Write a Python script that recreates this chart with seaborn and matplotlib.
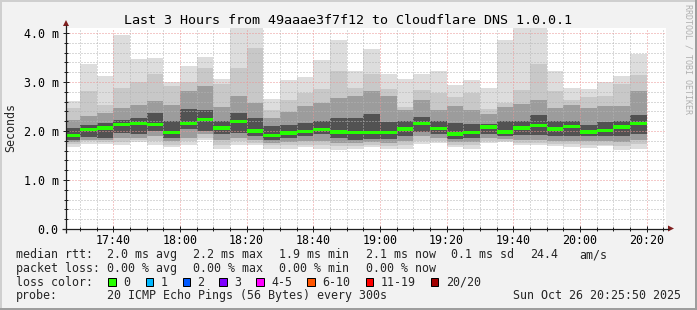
import numpy as np
import pandas as pd
import matplotlib
matplotlib.use("Agg")
import matplotlib.pyplot as plt
import seaborn as sns
from matplotlib.ticker import MultipleLocator
from matplotlib.patches import Rectangle, Polygon

# ---------------- data ----------------
bin_start = pd.date_range("2025-10-26 17:25", periods=35, freq="5min")

median = [1.91, 2.03, 2.06, 2.14, 2.16, 2.14, 1.97, 2.16, 2.23, 2.06, 2.20, 2.00,
          1.91, 1.96, 1.99, 2.03, 1.98, 1.97, 1.97, 1.97, 2.04, 2.16, 2.05, 1.94,
          1.97, 2.08, 1.98, 2.06, 2.12, 2.04, 2.10, 1.98, 2.01, 2.08, 2.15]

ping_max = [2.62, 3.37, 3.12, 3.95, 3.46, 3.48, 3.00, 3.32, 3.51, 3.07, 4.25, 4.25,
            2.66, 3.05, 3.10, 3.44, 3.85, 3.23, 3.68, 3.17, 3.07, 3.17, 3.22, 2.93,
            3.05, 2.88, 3.86, 4.25, 4.25, 3.23, 2.88, 2.86, 3.00, 3.12, 3.58]
upper2 = [2.47, 2.81, 2.54, 2.88, 3.01, 3.17, 2.91, 3.01, 3.29, 2.95, 3.29, 3.69,
          2.42, 2.64, 2.78, 2.86, 3.22, 2.88, 3.17, 2.86, 2.50, 2.84, 2.78, 2.69,
          2.78, 2.45, 2.57, 2.84, 3.37, 2.82, 2.64, 2.69, 2.71, 2.95, 3.15]
upper3 = [2.23, 2.30, 2.37, 2.47, 2.54, 2.61, 2.54, 2.81, 2.91, 2.50, 2.71, 2.57,
          2.27, 2.39, 2.52, 2.57, 2.67, 2.71, 2.82, 2.71, 2.42, 2.64, 2.42, 2.52,
          2.42, 2.35, 2.50, 2.55, 2.64, 2.46, 2.54, 2.47, 2.52, 2.52, 2.81]
upper4 = [2.06, 2.13, 2.16, 2.23, 2.27, 2.37, 2.20, 2.44, 2.42, 2.20, 2.37, 2.27,
          2.10, 2.13, 2.16, 2.20, 2.27, 2.27, 2.35, 2.18, 2.21, 2.28, 2.21, 2.16,
          2.14, 2.14, 2.20, 2.21, 2.32, 2.20, 2.20, 2.13, 2.18, 2.20, 2.33]
lower4 = [1.82, 1.87, 1.86, 1.96, 1.93, 2.01, 1.86, 2.05, 2.01, 1.93, 1.96, 1.89,
          1.82, 1.86, 1.89, 1.93, 1.86, 1.82, 1.84, 1.84, 1.89, 1.98, 1.93, 1.84,
          1.86, 1.94, 1.89, 1.91, 1.91, 1.89, 1.89, 1.89, 1.89, 1.89, 1.93]
lower3 = [1.78, 1.82, 1.82, 1.86, 1.86, 1.89, 1.79, 1.86, 1.93, 1.82, 1.86, 1.82,
          1.76, 1.78, 1.79, 1.79, 1.76, 1.76, 1.78, 1.76, 1.79, 1.89, 1.86, 1.78,
          1.78, 1.86, 1.84, 1.82, 1.82, 1.80, 1.80, 1.79, 1.79, 1.78, 1.82]
lower2 = [1.74, 1.79, 1.78, 1.78, 1.81, 1.79, 1.72, 1.79, 1.86, 1.72, 1.79, 1.76,
          1.71, 1.71, 1.72, 1.71, 1.69, 1.69, 1.72, 1.69, 1.71, 1.80, 1.80, 1.72,
          1.71, 1.80, 1.80, 1.76, 1.76, 1.74, 1.74, 1.71, 1.72, 1.69, 1.74]
ping_min = [1.68, 1.74, 1.74, 1.71, 1.77, 1.71, 1.67, 1.71, 1.81, 1.64, 1.72, 1.71,
            1.64, 1.64, 1.67, 1.64, 1.62, 1.64, 1.67, 1.64, 1.64, 1.74, 1.76, 1.67,
            1.64, 1.76, 1.78, 1.71, 1.72, 1.69, 1.67, 1.65, 1.69, 1.62, 1.64]

xtick_labels = ["17:40", "18:00", "18:20", "18:40", "19:00", "19:20", "19:40", "20:00", "20:20"]
ytick_values = [0.0, 1.0, 2.0, 3.0, 4.0]
ytick_labels = ["0.0", "1.0 m", "2.0 m", "3.0 m", "4.0 m"]

title = "Last 3 Hours from 49aaae3f7f12 to Cloudflare DNS 1.0.0.1"
rtt_stats = ["2.0 ms avg", "2.2 ms max", "1.9 ms min", "2.1 ms now", "0.1 ms sd", "24.4", "am/s"]
loss_stats = ["0.00 % avg", "0.00 % max", "0.00 % min", "0.00 % now"]
loss_labels = ["0", "1", "2", "3", "4-5", "6-10", "11-19", "20/20"]
loss_colors = ["#26ff00", "#00b8ff", "#0059ff", "#7e00ff", "#ff00ff", "#ff5500", "#ff0000", "#a10000"]
probe_text = "20 ICMP Echo Pings (56 Bytes) every 300s"
stamp_text = "Sun Oct 26 20:25:50 2025"

# ---------------- style ----------------
sns.set_theme(style="white")
plt.rcParams['font.family'] = ['DejaVu Sans Mono', 'DejaVu Sans']
plt.rcParams['lines.scale_dashes'] = True

W, H = 697, 310
BACK = "#f2f2f2"
SHADEA = "#cfcfcf"
SHADEB = "#9e9e9e"
GRID = "#b4b4b4"
MGRID = "#eb9595"
AXIS = "#1f1f1f"
ARROW = "#801f1f"
FS = 8.4

fig = plt.figure(figsize=(W / 100, H / 100), dpi=100, facecolor=BACK)
ax = fig.add_axes([66 / W, 1 - 229 / H, 600 / W, 201 / H])
ax.set_facecolor("white")

t0 = pd.Timestamp("2025-10-26 17:00")
xs = np.array([(t - t0).total_seconds() / 60 for t in bin_start])
end_min = (pd.Timestamp("2025-10-26 20:25:50") - t0).total_seconds() / 60

layers = [(ping_min, ping_max, "#dddddd"),
          (lower2, upper2, "#c8c8c8"),
          (lower3, upper3, "#9c9c9c"),
          (lower4, upper4, "#525252")]
for lo, hi, col in layers:
    lo = np.asarray(lo); hi = np.asarray(hi)
    ax.bar(xs, hi - lo, bottom=lo, width=5, align="edge", color=col,
           linewidth=0, antialiased=False, zorder=1)
med = np.asarray(median)
ax.bar(xs, 0.065, bottom=med - 0.0325, width=5, align="edge", color=loss_colors[0],
       linewidth=0, antialiased=False, zorder=3)

ax.set_xlim(end_min - 180, end_min)
ax.set_ylim(0, 201 / 49)
ax.set_xticks(np.arange(40, 201, 20), xtick_labels)
ax.xaxis.set_minor_locator(MultipleLocator(5))
ax.set_yticks(ytick_values, ytick_labels)
ax.yaxis.set_minor_locator(MultipleLocator(0.2))
ax.set_axisbelow(False)
ax.grid(which="minor", color=GRID, linestyle=(0, (1, 2)), linewidth=0.72)
ax.grid(which="major", color=MGRID, linestyle=(0, (1, 2)), linewidth=0.72)
ax.tick_params(which="both", bottom=True, left=True, direction="inout",
               color=AXIS, width=0.72, labelsize=FS, labelcolor="black")
ax.tick_params(which="major", length=4)
ax.tick_params(which="minor", length=2.5)
ax.tick_params(axis="x", which="major", pad=1.3)
ax.tick_params(axis="y", which="major", pad=3.3)
for s in ax.spines.values():
    s.set_visible(False)

# ---------------- overlay in pixel coords ----------------
ov = fig.add_axes([0, 0, 1, 1], zorder=5)
ov.set_xlim(0, W)
ov.set_ylim(H, 0)
ov.axis("off")
ov.patch.set_alpha(0)

# frame shading
ov.add_patch(Rectangle((0, 0), W, 1.5, color=SHADEA, lw=0))
ov.add_patch(Rectangle((0, 0), 1.5, H, color=SHADEA, lw=0))
ov.add_patch(Rectangle((0, H - 2), W, 2, color=SHADEB, lw=0))
ov.add_patch(Rectangle((W - 2, 0), 2, H, color=SHADEB, lw=0))

# axes lines + arrows
ov.plot([62, 669], [228.5, 228.5], color=AXIS, lw=0.9, solid_capstyle="butt")
ov.plot([66, 66], [232.5, 25], color=AXIS, lw=0.9, solid_capstyle="butt")
ov.add_patch(Polygon([[668, 225.5], [668, 231.5], [674, 228.5]], closed=True, color=ARROW, lw=0))
ov.add_patch(Polygon([[63, 26], [69, 26], [66, 20]], closed=True, color=ARROW, lw=0))

# title & labels
ov.text(348.5, 23.5, title, ha="center", va="baseline", fontsize=9.6, color="black")
ov.text(10.5, 128, "Seconds", rotation=90, ha="center", va="center", fontsize=FS)
ov.text(688, 4, "RRDTOOL / TOBI OETIKER", rotation=-90, ha="center", va="top",
        fontsize=6, color="#b0b0b0")

rows = [258.3, 271.8, 285.8, 299.3]
ov.text(16, rows[0], "median rtt:", fontsize=FS, va="baseline")
for xp, s in zip([107.3, 193.3, 279.3, 365.5, 451.3, 530.3, 579.3], rtt_stats):
    ov.text(xp, rows[0], s, fontsize=FS, va="baseline")
ov.text(16, rows[1], "packet loss:", fontsize=FS, va="baseline")
for xp, s in zip([107.3, 193.3, 279.3, 365.5], loss_stats):
    ov.text(xp, rows[1], s, fontsize=FS, va="baseline")
ov.text(16, rows[2], "loss color:", fontsize=FS, va="baseline")
for xp, lab, col in zip([108.3, 145.6, 182.6, 219.4, 256.4, 307.2, 365.8, 430.8],
                        loss_labels, loss_colors):
    ov.add_patch(Rectangle((xp, 277.8), 7.4, 7.8, facecolor=col, edgecolor="black", lw=0.72))
    ov.text(xp + 15, rows[2], lab, fontsize=FS, va="baseline")
ov.text(16, rows[3], "probe:", fontsize=FS, va="baseline")
ov.text(107.3, rows[3], probe_text, fontsize=FS, va="baseline")
ov.text(513.3, rows[3], stamp_text, fontsize=FS, va="baseline")

fig.savefig("out.png", dpi=100, facecolor=BACK)
